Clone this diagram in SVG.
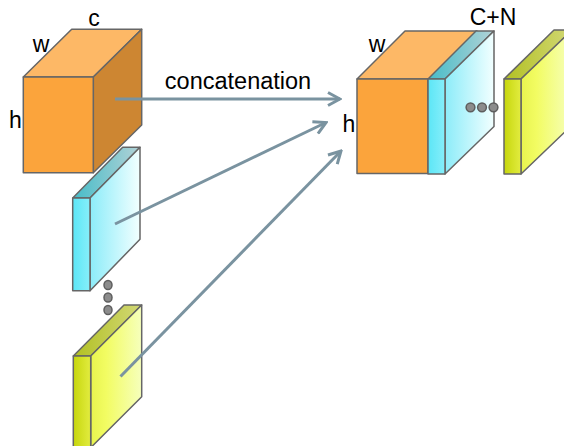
<svg xmlns="http://www.w3.org/2000/svg" width="564" height="446" viewBox="0 0 564 446">
  <defs>
    <linearGradient id="cyanFront" x1="0" y1="0" x2="1" y2="0">
      <stop offset="0" stop-color="#5ce6f6"/>
      <stop offset="1" stop-color="#86eefa"/>
    </linearGradient>
    <linearGradient id="cyanSide" x1="0" y1="0" x2="1" y2="0">
      <stop offset="0" stop-color="#8cecf9"/>
      <stop offset="1" stop-color="#f2ffff"/>
    </linearGradient>
    <linearGradient id="cyanTop" x1="0" y1="0" x2="1" y2="0">
      <stop offset="0" stop-color="#46bcc8"/>
      <stop offset="1" stop-color="#b2d2d6"/>
    </linearGradient>
    <linearGradient id="yelFront" x1="0" y1="0" x2="1" y2="0">
      <stop offset="0" stop-color="#c6d60c"/>
      <stop offset="1" stop-color="#e2ec40"/>
    </linearGradient>
    <linearGradient id="yelSide" x1="0" y1="0" x2="1" y2="0">
      <stop offset="0" stop-color="#e8f44e"/>
      <stop offset="0.3" stop-color="#f2fc62"/>
      <stop offset="1" stop-color="#f6ffbc"/>
    </linearGradient>
    <linearGradient id="yelTop" x1="0" y1="0" x2="1" y2="0">
      <stop offset="0" stop-color="#b2c022"/>
      <stop offset="1" stop-color="#d2d876"/>
    </linearGradient>
    <marker id="head" markerUnits="userSpaceOnUse" viewBox="-14 -8 16 16" markerWidth="16" markerHeight="16" refX="0" refY="0" orient="auto">
      <path d="M-12,-6.5 L0,0 L-12,6.5" fill="none" stroke="#7a93a0" stroke-width="3" stroke-linejoin="miter"/>
    </marker>
  </defs>
  <style>
    .edge { stroke: #666666; stroke-width: 1.5; stroke-linejoin: round; }
    .ofront { fill: #fba43c; }
    .otop { fill: #fdb866; }
    .oside { fill: #cd8632; }
    .cf { fill: url(#cyanFront); }
    .cs { fill: url(#cyanSide); }
    .ct { fill: url(#cyanTop); }
    .yf { fill: url(#yelFront); }
    .ys { fill: url(#yelSide); }
    .yt { fill: url(#yelTop); }
    .dot { fill: #8c8c8c; stroke: #5e5e5e; stroke-width: 1.5; }
    .lbl { font-family: "Liberation Sans", Arial, sans-serif; font-size: 23px; fill: #000000; text-anchor: middle; }
    .big { font-size: 23.5px; }
    .arrow { stroke: #7a93a0; stroke-width: 3; fill: none; marker-end: url(#head); }
  </style>

  <!-- input feature map: yellow slab (bottom left) -->
  <g id="input-yellow">
    <polygon class="yt edge" points="73.3,356 124,305 141.7,305 90.7,356"/>
    <polygon class="ys edge" points="90.7,356 141.7,305 141.7,396.7 90.7,447.7"/>
    <polygon class="yf edge" points="73.3,356 90.7,356 90.7,447.7 73.3,447.7"/>
  </g>

  <!-- vertical ellipsis between the slabs -->
  <g id="input-dots">
    <ellipse class="dot" cx="108" cy="285" rx="4" ry="4.6"/>
    <ellipse class="dot" cx="108" cy="297.5" rx="4" ry="4.6"/>
    <ellipse class="dot" cx="108" cy="310" rx="4" ry="4.6"/>
  </g>

  <!-- input feature map: cyan slab -->
  <g id="input-cyan">
    <polygon class="ct edge" points="72.7,198 122.7,147.3 140,147.3 90,198"/>
    <polygon class="cs edge" points="90,198 140,147.3 140,239.3 90,290.7"/>
    <polygon class="cf edge" points="72.7,198 90,198 90,290.7 72.7,290.7"/>
  </g>

  <!-- input feature map: orange cube -->
  <g id="input-cube">
    <polygon class="otop edge" points="23.3,77 71.7,29.3 141.7,29.3 93.3,77"/>
    <polygon class="oside edge" points="93.3,77 141.7,29.3 141.7,125 93.3,172.7"/>
    <polygon class="ofront edge" points="23.3,77 93.3,77 93.3,172.7 23.3,172.7"/>
    <text class="lbl" x="94" y="25.5">c</text>
    <text class="lbl" x="41" y="51.5">w</text>
    <text class="lbl" x="15.5" y="128">h</text>
  </g>

  <!-- concatenated output block -->
  <g id="output-block">
    <polygon class="otop edge" points="357,79 405,31 477,31 429,79"/>
    <polygon class="ofront edge" points="357,79 428,79 428,173.5 357,173.5"/>
    <polygon class="ct edge" points="428,79 476,31 494,31 445,79"/>
    <polygon class="cs edge" points="445,79 494,31 494,126.5 445,174"/>
    <polygon class="cf edge" points="428,79 445,79 445,174 428,174"/>
    <circle class="dot" cx="470.5" cy="107.3" r="4.4"/>
    <circle class="dot" cx="482" cy="107.3" r="4.4"/>
    <circle class="dot" cx="493.5" cy="107.3" r="4.4"/>
    <text class="lbl" x="377" y="51.5">w</text>
    <text class="lbl" x="349" y="131.5">h</text>
    <text class="lbl" x="493" y="25">C+N</text>
  </g>

  <!-- trailing yellow slab of the output -->
  <g id="output-yellow">
    <polygon class="yt edge" points="504,79 554,30 572,30 521,79"/>
    <polygon class="ys edge" points="521,79 572,30 572,125 521,174"/>
    <polygon class="yf edge" points="504,79 521,79 521,174 504,174"/>
  </g>

  <!-- connectors -->
  <g id="connectors">
    <line class="arrow" x1="115" y1="99" x2="340" y2="99"/>
    <line class="arrow" x1="115" y1="224" x2="326" y2="122.5"/>
    <line class="arrow" x1="120.5" y1="376.5" x2="341" y2="151"/>
    <text class="lbl big" x="238" y="89.3">concatenation</text>
  </g>
</svg>
